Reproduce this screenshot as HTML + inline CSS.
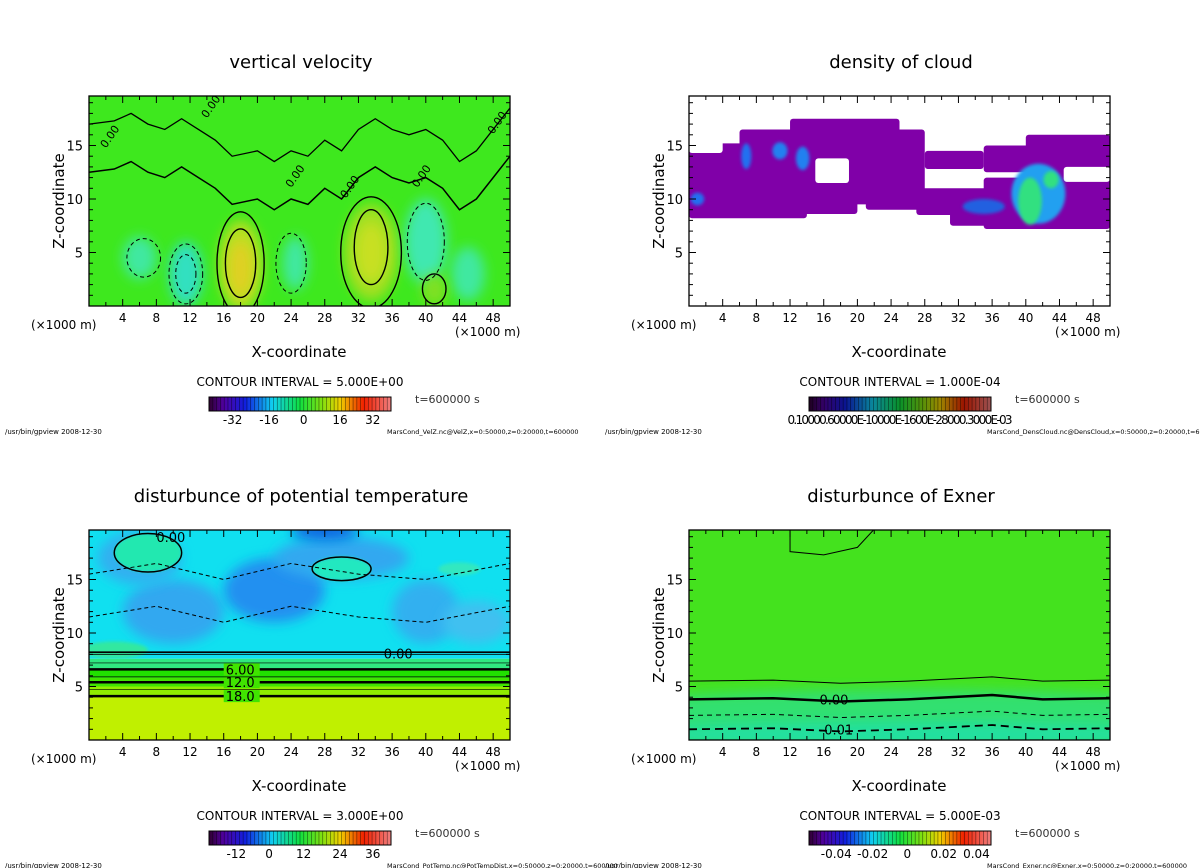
<!DOCTYPE html>
<html><head><meta charset="utf-8">
<style>
html,body{margin:0;padding:0;background:#fff;}
svg{display:block;font-family:"DejaVu Sans","Liberation Sans",sans-serif;}
</style></head>
<body>
<svg id="s" width="1200" height="868" viewBox="0 0 1200 868" xmlns="http://www.w3.org/2000/svg">
<defs>
<filter id="bl" x="-50%" y="-50%" width="200%" height="200%"><feGaussianBlur stdDeviation="6"/></filter>
<filter id="bl2" x="-50%" y="-50%" width="200%" height="200%"><feGaussianBlur stdDeviation="1.5"/></filter>
<linearGradient id="rb" x1="0" x2="1" y1="0" y2="0">
<stop offset="0" stop-color="#300030"/><stop offset="0.08" stop-color="#5000a0"/><stop offset="0.2" stop-color="#1020e0"/>
<stop offset="0.35" stop-color="#10d0f0"/><stop offset="0.5" stop-color="#10e040"/><stop offset="0.62" stop-color="#80e010"/>
<stop offset="0.72" stop-color="#f0d000"/><stop offset="0.85" stop-color="#f02000"/><stop offset="1" stop-color="#f08080"/>
</linearGradient>
<clipPath id="c1"><rect x="89" y="96" width="421" height="210"/></clipPath>
<clipPath id="c2"><rect x="689" y="96" width="421" height="210"/></clipPath>
<clipPath id="c3"><rect x="89" y="530" width="421" height="210"/></clipPath>
<clipPath id="c4"><rect x="689" y="530" width="421" height="210"/></clipPath>
</defs>
<g id="root"></g>
</svg>
<script>
// ---- data ----
const xTicks=[4,8,12,16,20,24,28,32,36,40,44,48];
const zTicks=[5,10,15];
const titles=["vertical velocity","density of cloud","disturbunce of potential temperature","disturbunce of Exner"];
const intervals=["5.000E+00","1.000E-04","3.000E+00","5.000E-03"];
const cbLabels=[["-32","-16","0","16","32"],["0.10000.60000E-10000E-1600E-28000.3000E-03"],["-12","0","12","24","36"],["-0.04","-0.02","0","0.02","0.04"]];
const cbPos=[[0.13,0.33,0.52,0.72,0.9],[0.5],[0.15,0.33,0.52,0.72,0.9],[0.15,0.35,0.54,0.74,0.92]];
const files=["MarsCond_VelZ.nc@VelZ,x=0:50000,z=0:20000,t=600000","MarsCond_DensCloud.nc@DensCloud,x=0:50000,z=0:20000,t=600000","MarsCond_PotTemp.nc@PotTempDist,x=0:50000,z=0:20000,t=600000","MarsCond_Exner.nc@Exner,x=0:50000,z=0:20000,t=600000"];
const velBlobs=[[18,3.8,2.6,4.2,"#b8e020"],[18,3.5,1.4,2.6,"#e0d020"],[33.5,5,3.2,4.5,"#a0e020"],[33.5,5,1.8,2.8,"#c8e020"],[11.5,3,2,3,"#30e0c0"],[6,4.5,2,2,"#40e8a0"],[40,6,2.5,4,"#40e8b0"],[24.5,4,1.5,2.5,"#40e8a0"],[45,3,2,2.5,"#40e8a0"],[41,1.5,1.5,1.5,"#80e020"]];
const velCont=[[18,4,2.8,4.8,0],[18,4,1.8,3.2,0],[33.5,5,3.6,5.2,0],[33.5,5.5,2,3.5,0],[11.5,3,2,2.8,1],[11.5,3,1.2,1.8,1],[6.5,4.5,2,1.8,1],[40,6,2.2,3.6,1],[24,4,1.8,2.8,1],[41,1.6,1.4,1.4,0]];
const velZero=[[0,12.5],[3,12.8],[5,13.5],[7,12.5],[9,12],[11,13],[13,12],[15,11],[17,9.5],[20,10],[22,9],[24,10],[26,9.5],[28,11],[30,10],[32,12],[34,13],[36,12],[38,11.5],[40,12],[42,11],[44,9],[46,10],[48,12],[50,14]];
const cloudRegs=[[0,14,8.2,15.2],[6,28,9.5,16.5],[12,25,10.5,17.5],[13,20,8.6,10.4],[21,28,9,10.5],[27,37,8.5,11],[31,36,7.5,9],[28,35,12.8,14.5],[35,45,12.5,15],[40,50,11.6,16],[35,50,7.2,12],[44,50,9,11.5]];
const cloudHoles=[[15,19,11.5,13.8],[29.3,33,11.5,12.6],[44.5,50,11.6,13],[0,4,14.3,15.5]];
const cloudBlue=[[6.8,14,0.6,1.2,"#2070f0"],[10.8,14.5,0.9,0.8,"#2080f0"],[13.5,13.8,0.8,1.1,"#2080f0"],[35,9.3,2.5,0.7,"#2060e0"],[41.5,10.5,3.2,2.8,"#20a0f0"],[40.5,9.8,1.4,2.2,"#30e080"],[43,11.8,0.9,0.8,"#30e080"],[1,10,0.8,0.6,"#2070f0"]];
const ptBands=[[0,4.2,"#c0f000"],[4.2,5,"#90ec00"],[5,5.8,"#40e400"],[5.8,6.6,"#20e000"],[6.6,7.6,"#30e880"],[7.6,20,"#10e0f0"]];
const ptBlue=[[10,12,6,3,"#30a8f0"],[22,14,6,3,"#2090f0"],[30,17,8,2,"#30a8f0"],[6,17,5,2.5,"#30b0f0"],[40,12,4,3,"#30b0f0"],[28,19.5,4,0.8,"#1060e0"],[46,11,4,2,"#40c0f0"]];
const ptGreen=[[7,17.5,4,1.8,"#20e8b0"],[30,16,3.5,1.1,"#20e8c0"],[3,8.4,4,0.8,"#30e8a0"],[44,16,2.5,0.6,"#30e8c0"]];
const ptLevels=[[8.2,1.8,null],[6.6,2.5,"6.00"],[5.4,2.5,"12.0"],[4.1,2.5,"18.0"]];
const exLevels=[[5.5,1,"",null],[3.8,2.5,"","0.00"],[2.3,1,"5,4",null],[1,1.8,"8,5","-0.01"]];
// ---- helpers ----
const NS="http://www.w3.org/2000/svg";
const root=document.getElementById('root');
function el(t,a,p){const e=document.createElementNS(NS,t);for(const k in a)e.setAttribute(k,a[k]);(p||root).appendChild(e);return e;}
const panels=[[89,96],[689,96],[89,530],[689,530]];
function sx(p,x){return panels[p][0]+x*8.42;}
function sz(p,z){return panels[p][1]+210-z*10.7;}
function blob(p,g,b,flt){const e=el('ellipse',{cx:sx(p,b[0]),cy:sz(p,b[1]),rx:b[2]*8.42,ry:b[3]*10.7,fill:b[4],filter:flt||'url(#bl)'},g);return e;}

for(let p=0;p<4;p++){
 const [X,Y]=panels[p];
 const g=el('g',{'clip-path':'url(#c'+(p+1)+')'});
 
 
 if(p===0){
  el('rect',{x:X,y:Y,width:421,height:210,fill:'#3ee81e'},g);
  velBlobs.forEach(b=>{const e=blob(p,g,b);});
  velCont.forEach(c=>{el('ellipse',{cx:sx(p,c[0]),cy:sz(p,c[1]),rx:c[2]*8.42,ry:c[3]*10.7,fill:'none',stroke:'#000','stroke-width':c[4]?1:1.4,'stroke-dasharray':c[4]?'4,3':''},g);});
  el('polyline',{points:velZero.map(q=>sx(p,q[0])+','+sz(p,q[1])).join(' '),fill:'none',stroke:'#000','stroke-width':1.5},g);
  el('polyline',{points:velZero.map(q=>sx(p,q[0])+','+sz(p,q[1]+4.5)).join(' '),fill:'none',stroke:'#000','stroke-width':1.3},g);
  [[14,17.5],[24,11],[30.5,10],[39,11],[2,14.7],[48,16]].forEach(q=>{const t=el('text',{x:sx(p,q[0]),y:sz(p,q[1]),'font-size':11,transform:'rotate(-55 '+sx(p,q[0])+' '+sz(p,q[1])+')'},g);t.textContent='0.00';});
 } else if(p===1){
  el('rect',{x:X,y:Y,width:421,height:210,fill:'#fff'},g);
  cloudRegs.forEach(r=>{const e=el('rect',{x:sx(p,r[0]),y:sz(p,r[3]),width:(r[1]-r[0])*8.42,height:(r[3]-r[2])*10.7,fill:'#8000a8',rx:3},g);});
  cloudHoles.forEach(r=>{el('rect',{x:sx(p,r[0]),y:sz(p,r[3]),width:(r[1]-r[0])*8.42,height:(r[3]-r[2])*10.7,fill:'#fff',rx:3},g);});
  cloudBlue.forEach(b=>blob(p,g,b,'url(#bl2)'));
 } else if(p===2){
  ptBands.forEach(b=>{el('rect',{x:X,y:sz(p,b[1]),width:421,height:(b[1]-b[0])*10.7,fill:b[2]},g);});
  ptBlue.forEach(b=>blob(p,g,b));
  ptGreen.forEach(b=>blob(p,g,b,'url(#bl2)'));
  ptGreen.slice(0,2).forEach(b=>{el('ellipse',{cx:sx(p,b[0]),cy:sz(p,b[1]),rx:b[2]*8.42,ry:b[3]*10.7,fill:'none',stroke:'#000','stroke-width':1.5},g);});
  ptLevels.forEach(l=>{el('line',{x1:X,x2:X+421,y1:sz(p,l[0]),y2:sz(p,l[0]),stroke:'#000','stroke-width':l[1]},g);
   if(l[2]){el('rect',{x:sx(p,16),y:sz(p,l[0])-6,width:36,height:12,fill:'#40e400'},g);const t=el('text',{x:sx(p,16)+2,y:sz(p,l[0])+5,'font-size':13},g);t.textContent=l[2];}});
  [8.0,7.2,5.9,4.7].forEach(z=>el('line',{x1:X,x2:X+421,y1:sz(p,z),y2:sz(p,z),stroke:'#000','stroke-width':0.7},g));
  [[0,15.5],[0,11.5]].forEach(q=>el('polyline',{points:[0,8,16,24,32,40,50].map((x,i)=>sx(p,x)+','+sz(p,q[1]+[0,1,-0.5,1,0,-0.5,1][i])).join(' '),fill:'none',stroke:'#000','stroke-dasharray':'4,3'},g));
  let t=el('text',{x:sx(p,8),y:sz(p,18.5),'font-size':13},g);t.textContent='0.00';
  t=el('text',{x:sx(p,35),y:sz(p,7.6),'font-size':13},g);t.textContent='0.00';
 } else {
  el('rect',{x:X,y:Y,width:421,height:210,fill:'#44e21e'},g);
  blob(p,g,[25,2.5,40,2.2,'#30e070']);
  blob(p,g,[25,0.5,40,1.2,'#20e0a0']);
  exLevels.forEach(l=>{el('polyline',{points:[0,10,18,26,36,42,50].map((x,i)=>sx(p,x)+','+sz(p,l[0]+[0,0.1,-0.2,0,0.4,0,0.1][i])).join(' '),fill:'none',stroke:'#000','stroke-width':l[1],'stroke-dasharray':l[2]},g);
   if(l[3]){const t=el('text',{x:sx(p,15.5),y:sz(p,l[0])+5,'font-size':13},g);t.textContent=l[3];}});
  el('polyline',{points:[[12,19.7],[12,17.6],[16,17.3],[20,18],[22,19.7]].map(q=>sx(p,q[0])+','+sz(p,q[1])).join(' '),fill:'none',stroke:'#000','stroke-width':1},g);
 }
 const fr=el('rect',{x:X,y:Y,width:421,height:210,fill:'none',stroke:'#000','stroke-width':1.3});
 
 for(let x=2;x<50;x+=2){const L=x%4===0?7:4;el('line',{x1:sx(p,x),x2:sx(p,x),y1:Y+210,y2:Y+210-L,stroke:'#000'});el('line',{x1:sx(p,x),x2:sx(p,x),y1:Y,y2:Y+L,stroke:'#000'});}
 for(let z=1;z<20;z++){const L=z%5===0?7:4;el('line',{x1:X,x2:X+L,y1:sz(p,z),y2:sz(p,z),stroke:'#000'});el('line',{x1:X+421,x2:X+421-L,y1:sz(p,z),y2:sz(p,z),stroke:'#000'});}
 xTicks.forEach(v=>{const t=el('text',{x:sx(p,v),y:Y+226,'font-size':12,'text-anchor':'middle'});t.textContent=v;});
 zTicks.forEach(v=>{const t=el('text',{x:X-6,y:sz(p,v)+5,'font-size':13,'text-anchor':'end'});t.textContent=v;});
 let t=el('text',{x:X-58,y:Y+233,'font-size':12});t.textContent='(\u00d71000 m)';
 t=el('text',{x:X+366,y:Y+240,'font-size':12});t.textContent='(\u00d71000 m)';
 t=el('text',{x:X+210,y:Y+261,'font-size':15,'text-anchor':'middle'});t.textContent='X-coordinate';
 t=el('text',{x:0,y:0,'font-size':15,'text-anchor':'middle',transform:'translate('+(X-25)+','+(Y+105)+') rotate(-90)'});t.textContent='Z-coordinate';
 t=el('text',{x:X+212,y:Y-28,'font-size':18,'text-anchor':'middle'});t.textContent=titles[p];
 t=el('text',{x:X+211,y:Y+290,'font-size':12,'text-anchor':'middle'});t.textContent='CONTOUR INTERVAL = '+intervals[p];
 const cx=X+120,cy=Y+301,cw=182,ch=14;
 const cb=el('rect',{x:cx,y:cy,width:cw,height:ch,fill:'url(#rb)',stroke:'#000'});
 
 if(p===1)el('rect',{x:cx,y:cy,width:cw,height:ch,fill:'#000',opacity:0.35});
 for(let i=1;i<48;i++)el('line',{x1:cx+i*cw/48,x2:cx+i*cw/48,y1:cy,y2:cy+ch,stroke:'#000','stroke-width':0.6,opacity:0.6});
 cbLabels[p].forEach((s,i)=>{const tt=el('text',{x:cx+cbPos[p][i]*cw,y:cy+27,'font-size':p===1?12:12,'text-anchor':'middle','textLength':p===1?225:null});if(p!==1)tt.removeAttribute('textLength');tt.textContent=s;});
 t=el('text',{x:X+326,y:Y+307,'font-size':11,fill:'#333'});t.textContent='t=600000  s';
 t=el('text',{x:X-84,y:Y+338,'font-size':7});t.textContent='/usr/bin/gpview   2008-12-30';
 t=el('text',{x:X+298,y:Y+338,'font-size':6.5});t.textContent=files[p];
}
</script>
</body></html>
